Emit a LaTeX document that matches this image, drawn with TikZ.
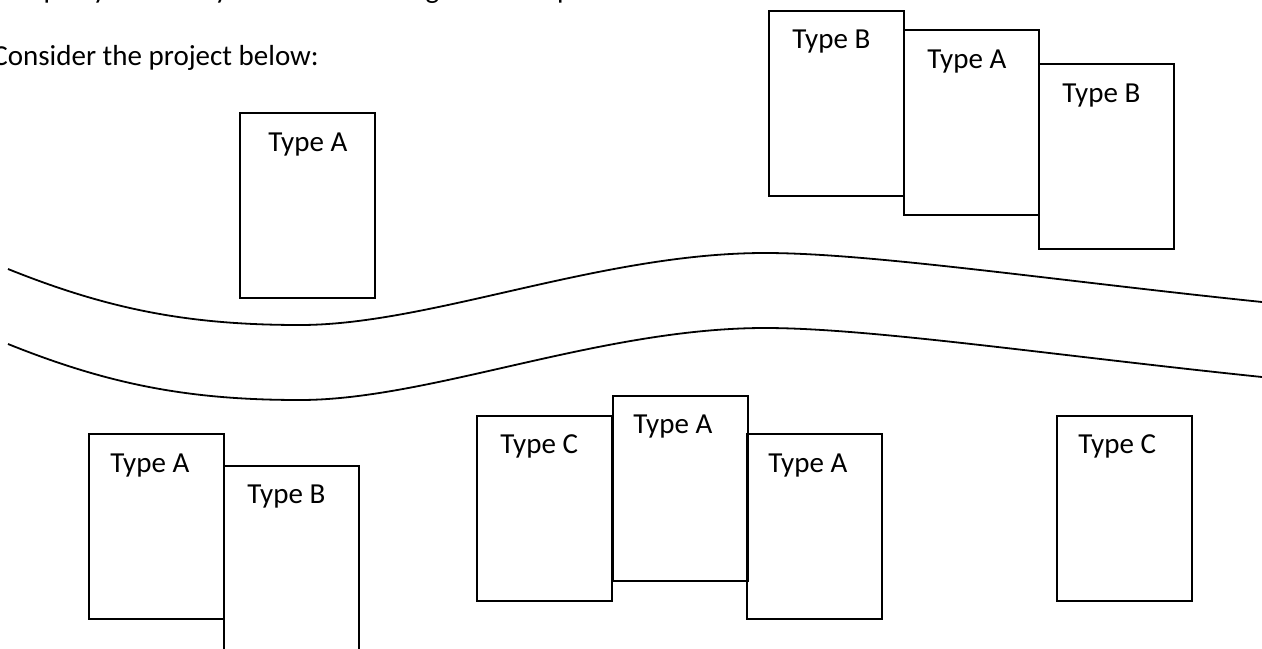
\documentclass[tikz,border=0pt]{standalone}
\usepackage{fontspec}
\setmainfont{Carlito}
\usepackage{tikz}
\usepackage{xcolor}

\tikzset{
  lot/.style={draw, line width=0.9pt, minimum width=67.5pt, minimum height=92.5pt,
              inner sep=0pt, anchor=north west},
  tag/.style={anchor=base west, inner sep=0pt},
  river/.style={draw, line width=0.9pt}
}

\begin{document}
\begin{tikzpicture}[x=0.5pt, y=-0.5pt, font=\fontsize{14.5}{17}\selectfont]
\useasboundingbox (0,0) rectangle (1262,648);
\clip (0,0) rectangle (1262,648);

% text above the picture
\node [tag] (prev) at (-9,-2)
       {\makebox[314.5pt][s]{hamper your ability to take advantage of the space.}};
\node [tag] (intro) at (-8,65) {Consider the project below:};

% north bank
\node [lot] (nA) at (239,112) {};
\node [tag] (nAt) at (268,151) {Type A};
\node [lot] (nB) at (768,10) {};
\node [tag] (nBt) at (792,48) {Type B};
\node [lot] (nA2) at (903,29) {};
\node [tag] (nA2t) at (927,68) {Type A};
\node [lot] (nB2) at (1038,63) {};
\node [tag] (nB2t) at (1062,102) {Type B};

% river
\draw [river] (8,269) .. controls (110,310) and (190,325) .. (300,325)
       .. controls (430,325) and (600,253) .. (765,253)
       .. controls (870,253) and (1050,280) .. (1262,302);
\draw [river, shift={(0,75)}] (8,269) .. controls (110,310) and (190,325) .. (300,325)
       .. controls (430,325) and (600,253) .. (765,253)
       .. controls (870,253) and (1050,280) .. (1262,302);

% south bank
\node [lot] (sA) at (88,433) {};
\node [tag] (sAt) at (110,472) {Type A};
\node [lot] (sB) at (223,465) {};
\node [tag] (sBt) at (247,503) {Type B};
\node [lot] (sC) at (476,415) {};
\node [tag] (sCt) at (500,453) {Type C};
\node [lot] (sA2) at (612,395) {};
\node [tag] (sA2t) at (633,433) {Type A};
\node [lot] (sA3) at (746,433) {};
\node [tag] (sA3t) at (768,472) {Type A};
\node [lot] (sC2) at (1056,415) {};
\node [tag] (sC2t) at (1078,453) {Type C};
\end{tikzpicture}
\end{document}
